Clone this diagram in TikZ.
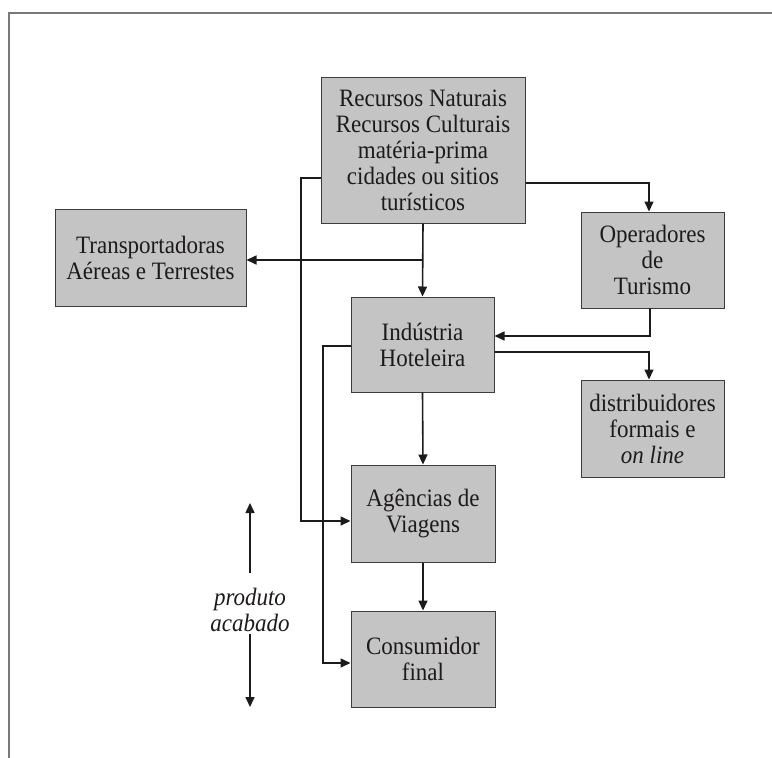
\documentclass[tikz,border=0pt]{standalone}
\usepackage{fontspec}
\setmainfont{Liberation Serif}[FakeStretch=0.92]
\usetikzlibrary{arrows.meta}
\definecolor{boxfill}{RGB}{196,196,196}
\definecolor{boxline}{RGB}{60,60,60}
\definecolor{framecol}{RGB}{120,120,120}
\definecolor{ink}{RGB}{30,26,26}
\begin{document}
\begin{tikzpicture}[x=1pt,y=-1pt,
  box/.style={draw=boxline, fill=boxfill, line width=1pt, inner sep=0pt, align=center, text=ink, font=\fontsize{25}{26}\selectfont},
  conn/.style={draw=ink, line width=1.6pt, -{Triangle[length=10pt,width=9pt]}},
  lbl/.style={text=ink, align=center, inner sep=0pt, font=\fontsize{25}{26}\selectfont\itshape}]
\useasboundingbox (0,0) rectangle (772,758);
\draw[framecol, line width=1.8pt] (9,758) -- (9,13) -- (772,13);

\node[box, minimum width=204pt, minimum height=146pt] (rec) at (423,150) {Recursos Naturais\\Recursos Culturais\\matéria-prima\\cidades ou sitios\\turísticos};
\node[box, minimum width=191pt, minimum height=97pt] (trans) at (150.5,257.5) {Transportadoras\\Aéreas e Terrestes};
\node[box, minimum width=143pt, minimum height=96pt] (oper) at (652.5,260) {Operadores\\de\\Turismo};
\node[box, minimum width=143pt, minimum height=95pt] (ind) at (422.5,344.5) {Indústria\\Hoteleira};
\node[box, minimum width=143pt, minimum height=97pt] (dist) at (652.5,428.5) {distribuidores\\formais e\\\textit{on line}};
\node[box, minimum width=144pt, minimum height=97pt] (ag) at (423,513.5) {Agências de\\Viagens};
\node[box, minimum width=144pt, minimum height=96pt] (cons) at (423,659) {Consumidor\\final};

\node[lbl] (prod) at (250,610) {produto\\acabado};
\coordinate (upend) at (250,503);
\coordinate (downend) at (250,707);
\draw[conn] (prod.north |- 0,573) -- (upend);
\draw[conn] (prod.south |- 0,634) -- (downend);

% waypoints
\coordinate (yA) at (0,183);
\coordinate (yB) at (0,260);
\coordinate (yC) at (0,178);
\coordinate (yE) at (0,352);
\coordinate (yF) at (0,346);
\coordinate (pA) at (649,183);
\coordinate (pC1) at (301,178);
\coordinate (pC2) at (301,521);
\coordinate (pD1) at (650,308);
\coordinate (pD2) at (650,336);
\coordinate (pE) at (649,352);
\coordinate (pF1) at (323,346);
\coordinate (pF2) at (323,663);

\draw[conn] (rec.east |- yA) -- (pA) -- (pA |- oper.north);
\draw[conn] (rec.south) -- (ind.north);
\draw[conn] (rec.south |- yB) -- (trans.east |- yB);
\draw[conn] (rec.west |- yC) -- (pC1) -- (pC2) -- (ag.west |- pC2);
\draw[conn] (pD1) -- (pD2) -- (ind.east |- pD2);
\draw[conn] (ind.east |- yE) -- (pE) -- (pE |- dist.north);
\draw[conn] (ind.west |- yF) -- (pF1) -- (pF2) -- (cons.west |- pF2);
\draw[conn] (ind.south) -- (ag.north);
\draw[conn] (ag.south) -- (cons.north);
\end{tikzpicture}
\end{document}
